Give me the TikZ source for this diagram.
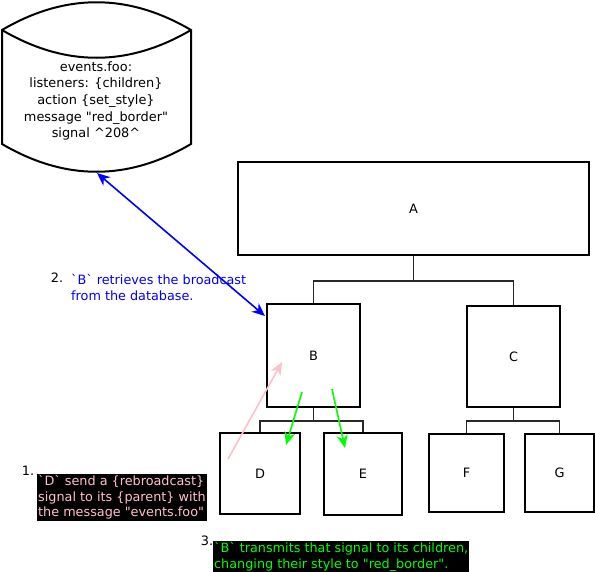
\documentclass[tikz,border=0pt]{standalone}
\usepackage{fontspec}
\setmainfont{DejaVu Sans}
\usetikzlibrary{arrows.meta}
\definecolor{pinkish}{RGB}{255,192,203}
\definecolor{grn}{RGB}{0,255,0}
\definecolor{blu}{RGB}{0,0,255}
\definecolor{conn}{RGB}{40,40,40}
\newcommand{\bq}{\textasciigrave}
\newcommand{\dq}{\textquotedbl}
\tikzset{
  treebox/.style={draw=black, line width=2pt, minimum width=#1, inner sep=0pt},
  sz/.style={minimum height=#1},
  lbl/.style={font=\fontsize{12.9}{16.7}\selectfont},
  treeline/.style={draw=conn, line width=1.8pt},
  tipA/.style={-{Stealth[length=13pt,width=11pt,inset=4pt]}},
  tipAB/.style={{Stealth[length=13pt,width=11pt,inset=4pt]}-{Stealth[length=13pt,width=11pt,inset=4pt]}},
  note/.style={font=\fontsize{12.8}{15.7}\selectfont, align=left, inner sep=1pt, anchor=north west},
  darknote/.style={note, fill=black},
}
\begin{document}
\begin{tikzpicture}[x=1pt,y=-1pt]
\useasboundingbox (0,0) rectangle (595,571);
% cylinder
\draw[line width=2pt] (2,30) .. controls (65,-7) and (128,-7) .. (191,30)
  -- (191,144) .. controls (128,181) and (65,181) .. (2,144) -- cycle;
\draw[line width=2pt] (2,30) .. controls (65,67) and (128,67) .. (191,30);
\node[lbl, align=center] (db) at (96,101) {events.foo:\\listeners: \{children\}\\action \{set\_style\}\\message \dq red\_border\dq\\signal \textasciicircum208\textasciicircum};
\coordinate (dbbot) at (97,173);
% tree
\node[treebox=351pt, sz=93pt, lbl] (A) at (413.5,208.5) {A};
\node[treebox=93pt, sz=103pt, lbl] (B) at (313.5,355.5) {B};
\node[treebox=93pt, sz=101pt, lbl] (C) at (513.5,356.5) {C};
\node[treebox=80pt, sz=81pt, lbl] (D) at (260,473.5) {D};
\node[treebox=78pt, sz=82pt, lbl] (E) at (363,474) {E};
\node[treebox=75pt, sz=78pt, lbl] (F) at (466.5,473) {F};
\node[treebox=69pt, sz=78pt, lbl] (G) at (559.5,473) {G};
\draw[treeline] (A.south) -- ++(0,25) -| (B.north);
\draw[treeline] (A.south) -- ++(0,25) -| (C.north);
\draw[treeline] (B.south) -- ++(0,13) -| (D.north);
\draw[treeline] (B.south) -- ++(0,13) -| (E.north);
\draw[treeline] (C.south) -- ++(0,13) -| (F.north);
\draw[treeline] (C.south) -- ++(0,13) -| (G.north);
% arrows
\coordinate (Bin) at (265,316);
\draw[blu, line width=1.6pt, tipAB] (dbbot) -- (Bin);
\coordinate (p1) at (228,459);
\coordinate (p2) at (282,362);
\draw[pinkish, line width=1.6pt, tipA] (p1) -- (p2);
\coordinate (g1) at (302,392);
\coordinate (g2) at (286,445);
\draw[grn, line width=1.6pt, tipA] (g1) -- (g2);
\coordinate (g3) at (332,389);
\coordinate (g4) at (345,448);
\draw[grn, line width=1.6pt, tipA] (g3) -- (g4);
% notes
\node[lbl] (n2) at (57,278) {2.};
\node[note, text=blu] (t2) at (70,273) {\bq B\bq\ retrieves the broadcast\\from the database.};
\node[lbl] (n1) at (28,471) {1.};
\node[darknote, text=pinkish] (t1) at (37,474) {\bq D\bq\ send a \{rebroadcast\}\\signal to its \{parent\} with\\the message \dq events.foo\dq};
\node[lbl] (n3) at (207,541) {3.};
\node[darknote, text=grn] (t3) at (213,541) {\bq B\bq\ transmits that signal to its children,\\changing their style to \dq red\_border\dq.};
\end{tikzpicture}
\end{document}
